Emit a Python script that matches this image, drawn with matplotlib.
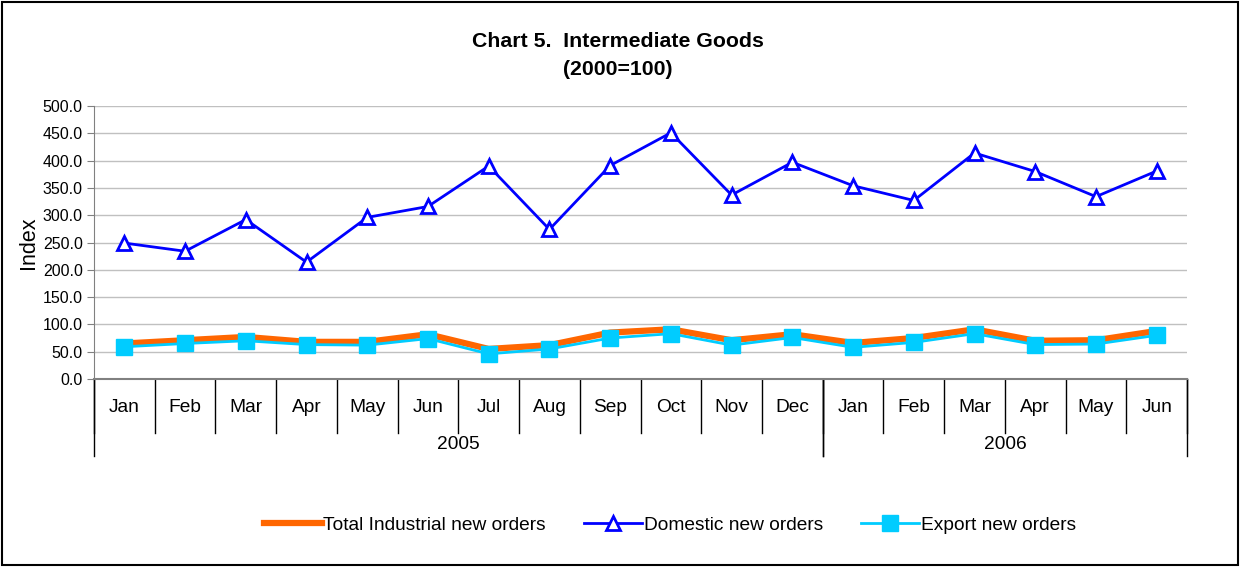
import matplotlib.pyplot as plt
from matplotlib.patches import Rectangle

plt.rcParams["font.family"] = ["Liberation Sans", "DejaVu Sans"]

months = ["Jan", "Feb", "Mar", "Apr", "May", "Jun", "Jul", "Aug", "Sep",
          "Oct", "Nov", "Dec", "Jan", "Feb", "Mar", "Apr", "May", "Jun"]
years = ["2005", "2006"]
year_lengths = [12, 6]

total = [65, 71, 77, 68, 68, 82, 55, 62, 85, 91, 71, 82, 66, 75, 91, 70, 71, 88]
domestic = [249, 234, 292, 214, 296, 316, 390, 274, 391, 451, 337, 397,
            354, 327, 414, 380, 334, 381]
export = [59, 65, 70, 63, 62, 74, 46, 55, 75, 83, 62, 76, 58, 67, 83, 63, 64, 80]

yticks = [0, 50, 100, 150, 200, 250, 300, 350, 400, 450, 500]

fig = plt.figure(figsize=(12.43, 5.67), dpi=100)
fig.patches.append(Rectangle((0.002, 0.004), 0.994, 0.992, transform=fig.transFigure,
                             fill=False, edgecolor="black", lw=1.5))
ax = fig.add_axes([0.0756, 0.3316, 0.8794, 0.4814])

x = list(range(len(months)))
ax.plot(x, total, color="#FF6600", lw=4.5, label="Total Industrial new orders")
ax.plot(x, domestic, color="#0000FF", lw=2, marker="^", ms=10, mfc="white",
        mec="#0000FF", mew=2, label="Domestic new orders")
ax.plot(x, export, color="#00CCFF", lw=2, marker="s", ms=11, mfc="#00CCFF",
        mec="#00CCFF", label="Export new orders")

ax.set_xlim(-0.5, len(months) - 0.5)
ax.set_ylim(0, 500)
ax.set_yticks(yticks)
ax.set_yticklabels([f"{v:.1f}" for v in yticks], fontsize=11.5)
ax.yaxis.grid(True, color="#C0C0C0", lw=1)
ax.set_axisbelow(True)
ax.set_xticks([])
for s in ["top", "right"]:
    ax.spines[s].set_visible(False)
ax.spines["left"].set_color("#808080")
ax.spines["bottom"].set_color("#808080")
ax.spines["bottom"].set_linewidth(1.5)
ax.tick_params(axis="y", length=5, color="#808080", pad=3)
ax.set_ylabel("Index", fontsize=15.5, labelpad=3)

# two-level category axis
tr = ax.get_xaxis_transform()
for i in range(len(months) + 1):
    ax.plot([i - 0.5, i - 0.5], [0, -0.198], transform=tr, color="black",
            lw=1, clip_on=False)
for i, m in enumerate(months):
    ax.text(i, -0.106, m, transform=tr, ha="center", va="center", fontsize=13.8)
start = 0
for yr, n in zip(years, year_lengths):
    for b in (start, start + n):
        ax.plot([b - 0.5, b - 0.5], [0, -0.282], transform=tr, color="black",
                lw=1, clip_on=False)
    ax.text(start + n / 2 - 0.5, -0.241, yr, transform=tr, ha="center",
            va="center", fontsize=13.8)
    start += n

fig.text(0.497, 0.926, "Chart 5.  Intermediate Goods", ha="center", va="center",
         fontsize=15.3, fontweight="bold")
fig.text(0.497, 0.877, "(2000=100)", ha="center", va="center",
         fontsize=15.3, fontweight="bold")

fig.legend(loc="center", bbox_to_anchor=(0.539, 0.074), ncol=3, frameon=False,
           fontsize=13.8, handlelength=3, handletextpad=0.1, columnspacing=2)

fig.savefig("out.png", dpi=100)
